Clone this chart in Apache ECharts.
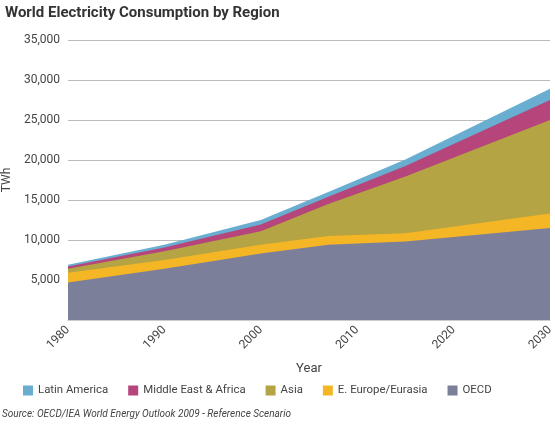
<!DOCTYPE html>
<html><head><meta charset="utf-8">
<script src="https://cdn.jsdelivr.net/npm/echarts@6/dist/echarts.min.js"></script>
<style>html,body{margin:0;padding:0;background:#fff}#c{width:555px;height:428px}</style>
</head><body><div id="c"></div>
<script>
const years = [1980, 1990, 2000, 2007, 2015, 2030];
const oecd = [4700, 6400, 8300, 9400, 9800, 11500];
const eEurope = [1200, 1100, 1100, 1100, 1050, 1800];
const asia = [500, 1100, 1700, 4000, 7100, 11700];
const midEastAfrica = [300, 450, 850, 900, 1300, 2500];
const latinAmerica = [200, 350, 550, 600, 800, 1400];
const yTicks = [5000, 10000, 15000, 20000, 25000, 30000, 35000];
const names = ['Latin America', 'Middle East & Africa', 'Asia', 'E. Europe/Eurasia', 'OECD'];
const colors = {'Latin America':'#69aed0','Middle East & Africa':'#b6457c','Asia':'#b4a443','E. Europe/Eurasia':'#f5b626','OECD':'#7b7f99'};
const font = 'Roboto';
// bottom-to-top stacking order
const layers = [['OECD', oecd], ['E. Europe/Eurasia', eEurope], ['Asia', asia], ['Middle East & Africa', midEastAfrica], ['Latin America', latinAmerica]];
const cum = years.map(()=>0);
const series = [];
layers.forEach(([name, vals], k)=>{
  vals.forEach((v,i)=>{cum[i]+=v;});
  series.push({name, type:'line', showSymbol:false, symbol:'none', z: 10 - k,
    lineStyle:{width:0}, areaStyle:{color:colors[name], opacity:1, origin:'start'}, itemStyle:{color:colors[name]},
    data: years.map((y,i)=>[y, cum[i]])});
});
series.reverse(); // draw the tallest first so lower layers paint over
const chart = echarts.init(document.getElementById('c'), null, {renderer:'canvas'});
chart.setOption({
  animation:false,
  textStyle:{fontFamily:font},
  title:{text:'World Electricity Consumption by Region', left:0, top:1,
    textStyle:{fontFamily:font, fontSize:15, fontWeight:'bold', color:'#333'}},
  grid:{left:68, right:5, top:40, bottom:108, containLabel:false, outerBoundsMode:'none'},
  legend:{data:names, left:18, top:380, itemWidth:10, itemHeight:10, itemGap:20, icon:'rect',
    textStyle:{fontFamily:font, fontSize:11.4, color:'#444'}},
  graphic:[{type:'text', left:2, top:409, style:{text:'Source: OECD/IEA World Energy Outlook 2009 - Reference Scenario',
    font:'italic 10px Roboto', fill:'#444'}}],
  xAxis:{type:'value', min:1980, max:2030, interval:10, name:'Year', nameLocation:'middle', nameGap:42,
    nameTextStyle:{fontFamily:font, fontSize:13, color:'#444'},
    axisLine:{show:true, lineStyle:{color:'#ccc'}}, axisTick:{show:false}, splitLine:{show:false},
    axisLabel:{rotate:45, formatter:v=>String(v), fontFamily:font, fontSize:12, color:'#444', margin:8}},
  yAxis:{type:'value', min:0, max:yTicks[yTicks.length-1], interval:yTicks[1]-yTicks[0], name:'TWh', nameLocation:'middle', nameGap:50,
    nameTextStyle:{fontFamily:font, fontSize:12, color:'#444'},
    axisLine:{show:false}, axisTick:{show:false},
    splitLine:{lineStyle:{color:'#bbb'}},
    axisLabel:{showMinLabel:false, formatter:v=>v.toLocaleString('en-US'), fontFamily:font, fontSize:12, color:'#444', margin:8}},
  series
});
</script></body></html>
